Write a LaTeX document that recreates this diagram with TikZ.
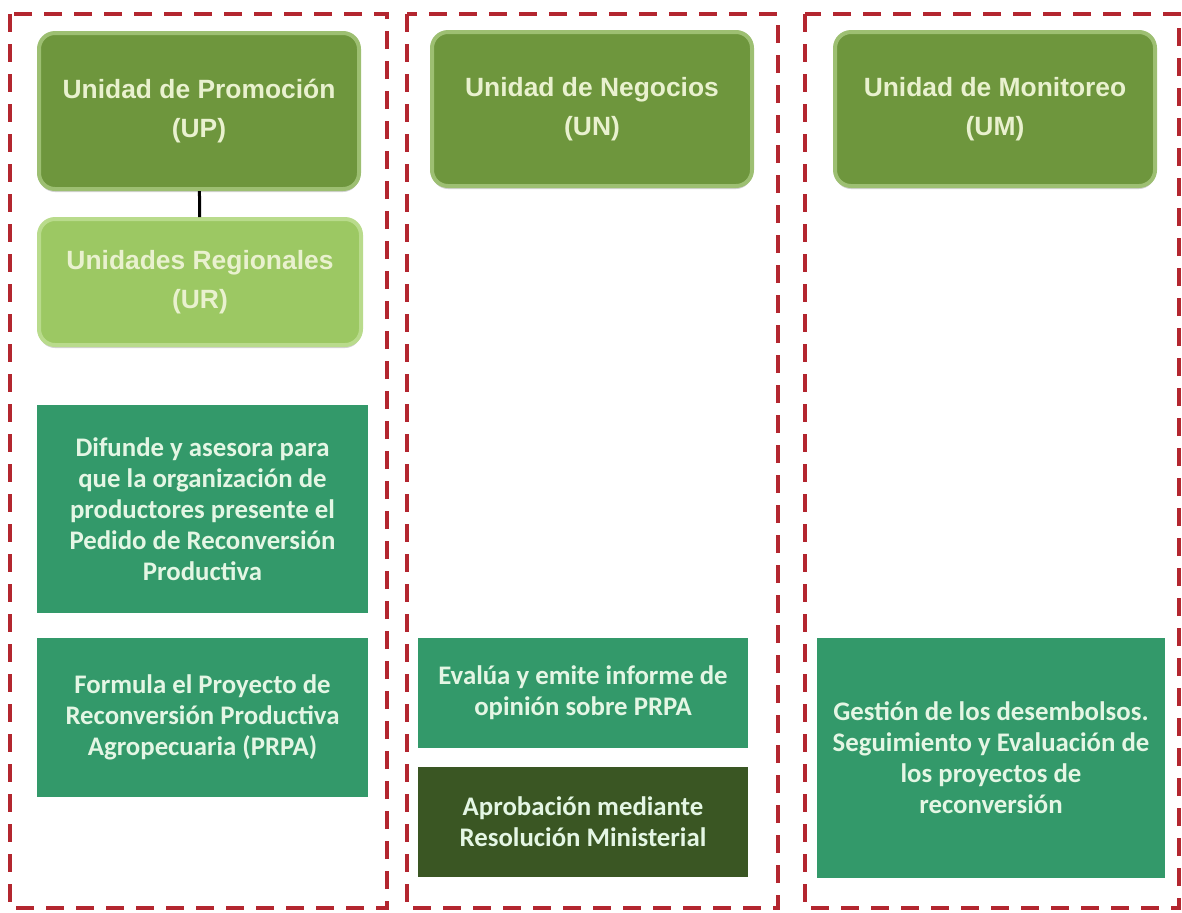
\documentclass[tikz,border=0pt]{standalone}
\usepackage{fontspec}
\setmainfont{Carlito}
\newfontfamily\unitfont{Liberation Sans}
\usepackage{tikz}
\usetikzlibrary{shadows}
\definecolor{unitgreen}{HTML}{6E963D}
\definecolor{unitedge}{HTML}{9DBF72}
\definecolor{regiongreen}{HTML}{9CC863}
\definecolor{regionedge}{HTML}{B9DB8C}
\definecolor{unittext}{HTML}{E9F1CF}
\definecolor{taskgreen}{HTML}{33996A}
\definecolor{taskdark}{HTML}{3A5623}
\definecolor{tasktext}{HTML}{E4F6E4}
\definecolor{framered}{HTML}{B3262F}
\tikzstyle{unit} = [draw=unitedge, line width=2pt, fill=unitgreen, rounded corners=8pt, align=center, text=unittext, font=\unitfont\bfseries\fontsize{13.2}{19.5}\selectfont, execute at begin node=\rule{0pt}{15.5pt}, drop shadow={shadow xshift=0pt, shadow yshift=-1.5pt, fill=black!35, opacity=0.5}]
\tikzstyle{region} = [unit, draw=regionedge, fill=regiongreen]
\tikzstyle{task} = [fill=taskgreen, align=center, text=tasktext, font=\bfseries\fontsize{13.4}{15.5}\selectfont]
\tikzstyle{frame} = [draw=framered, line width=2pt, dash pattern=on 9pt off 6pt]
\tikzstyle{link} = [line width=1.5pt, black]

\begin{document}
\begin{tikzpicture}[x=0.5pt, y=-0.5pt]
	\useasboundingbox (0,0) rectangle (1182,912);
	\draw[frame](10, 14) rectangle (387, 908);
	\draw[frame](407, 14) rectangle (778, 908);
	\draw[frame](805, 14) rectangle (1179, 908);
	\node[unit, minimum width=160pt, minimum height=78pt](up) at (199, 111){Unidad de Promoción\\(UP)};
	\node[region, minimum width=161pt, minimum height=63pt](ur) at (200, 282){Unidades Regionales\\(UR)};
	\node[unit, minimum width=160pt, minimum height=77pt](un) at (592, 109){Unidad de Negocios\\(UN)};
	\node[unit, minimum width=160pt, minimum height=77pt](um) at (995, 109){Unidad de Monitoreo\\(UM)};
	\node[task, minimum width=165.5pt, minimum height=104pt](difunde) at (202.5, 509){Difunde y asesora para\\que la organización de\\productores presente el\\Pedido de Reconversión\\Productiva};
	\node[task, minimum width=165.5pt, minimum height=79.5pt](formula) at (202.5, 717){Formula el Proyecto de\\Reconversión Productiva\\Agropecuaria (PRPA)};
	\node[task, minimum width=165pt, minimum height=55pt](evalua) at (583, 693){Evalúa y emite informe de\\opinión sobre PRPA};
	\node[task, fill=taskdark, minimum width=165pt, minimum height=55pt](aprueba) at (583, 822){Aprobación mediante\\Resolución Ministerial};
	\node[task, minimum width=174pt, minimum height=120pt](gestion) at (991, 758){Gestión de los desembolsos.\\Seguimiento y Evaluación de\\los proyectos de\\reconversión};
	\draw[link](up) -- (ur);
\end{tikzpicture}
\end{document}
